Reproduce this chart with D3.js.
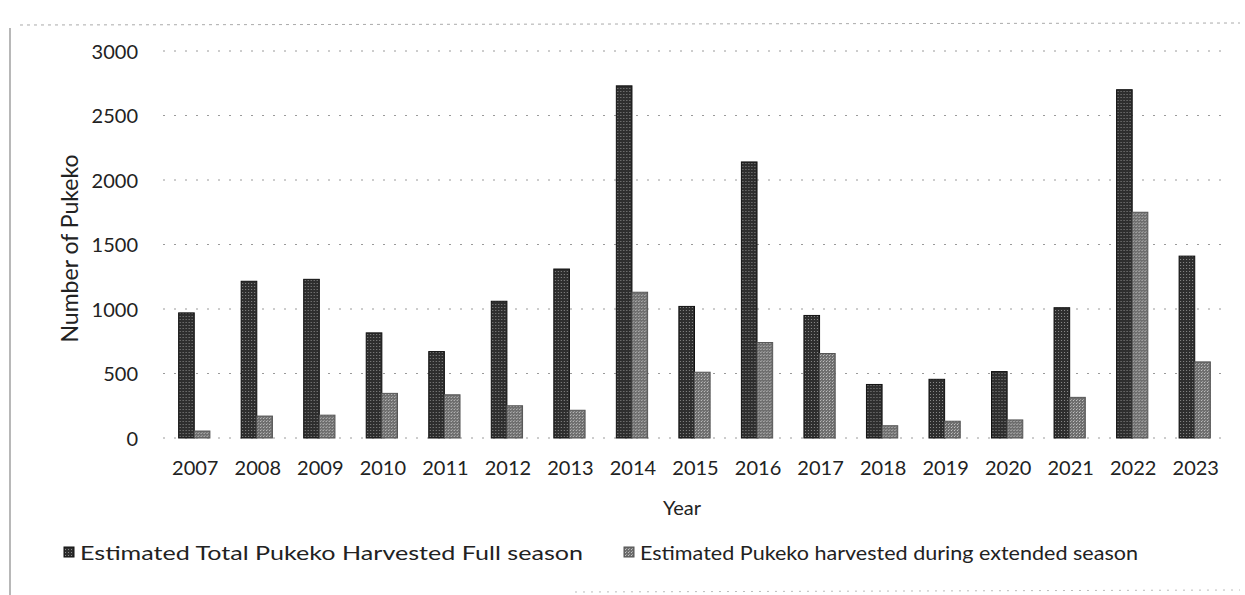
<!DOCTYPE html>
<html>
<head>
<meta charset="utf-8">
<script src="https://cdn.jsdelivr.net/npm/d3@7"></script>
<style>
  html, body { margin: 0; padding: 0; background: #fff; }
  svg { display: block; }
  text { font-family: Lato, "Open Sans", sans-serif; fill: #222; }
</style>
</head>
<body>
<div id="chart"></div>
<script>
const years = ["2007","2008","2009","2010","2011","2012","2013","2014","2015","2016","2017","2018","2019","2020","2021","2022","2023"];
const fullSeason = [970, 1215, 1230, 815, 670, 1060, 1310, 2730, 1020, 2140, 950, 415, 455, 515, 1010, 2700, 1410];
const extendedSeason = [54, 170, 177, 346, 335, 250, 215, 1130, 510, 740, 655, 95, 130, 140, 315, 1750, 590];
const seriesNames = ["Estimated Total Pukeko Harvested Full season", "Estimated Pukeko harvested during extended season"];
const yTicks = [0, 500, 1000, 1500, 2000, 2500, 3000];

const W = 1245, H = 595;
const margin = { left: 163, right: 19, top: 50, bottom: 157 };
const svg = d3.select("#chart").append("svg").attr("width", W).attr("height", H);

const defs = svg.append("defs");
const p1 = defs.append("pattern").attr("id", "darkTex").attr("patternUnits", "userSpaceOnUse").attr("width", 3).attr("height", 3);
p1.append("rect").attr("width", 3).attr("height", 3).attr("fill", "#2e2e2e");
p1.append("rect").attr("x", 1).attr("y", 1).attr("width", 1).attr("height", 1).attr("fill", "#8a8a8a");
const p2 = defs.append("pattern").attr("id", "lightTex").attr("patternUnits", "userSpaceOnUse").attr("width", 3).attr("height", 3);
p2.append("rect").attr("width", 3).attr("height", 3).attr("fill", "#6e6e6e");
p2.append("rect").attr("x", 1).attr("y", 1).attr("width", 1).attr("height", 1).attr("fill", "#c4c4c4");
p2.append("rect").attr("x", 2).attr("y", 0).attr("width", 1).attr("height", 1).attr("fill", "#a0a0a0");

// scan frame
svg.append("line").attr("x1", 10).attr("x2", 10).attr("y1", 28).attr("y2", 595)
  .attr("stroke", "#888").attr("stroke-width", 1.2);
svg.append("line").attr("x1", 20).attr("x2", 1240).attr("y1", 25).attr("y2", 23)
  .attr("stroke", "#aaa").attr("stroke-width", 1).attr("stroke-dasharray", "3,4");
svg.append("line").attr("x1", 575).attr("x2", 1240).attr("y1", 592).attr("y2", 590)
  .attr("stroke", "#bbb").attr("stroke-width", 1).attr("stroke-dasharray", "2,6");

const x = d3.scaleBand().domain(years).range([margin.left, W - margin.right]).paddingInner(0.5).paddingOuter(0.25);
const xSub = d3.scaleBand().domain([0, 1]).range([0, x.bandwidth()]);
const y = d3.scaleLinear().domain([0, 3000]).range([H - margin.bottom, margin.top + 1]);

// gridlines
svg.append("g").selectAll("line").data(yTicks).join("line")
  .attr("x1", margin.left).attr("x2", W - margin.right)
  .attr("y1", d => y(d)).attr("y2", d => y(d))
  .attr("stroke", "#9a9a9a").attr("stroke-width", 1).attr("stroke-dasharray", "2,9");

// y axis labels
const yAxis = d3.axisLeft(y).tickValues(yTicks).tickSize(0).tickPadding(0).tickFormat(d3.format("d"));
const gy = svg.append("g").attr("transform", `translate(${margin.left - 25},1)`).call(yAxis);
gy.select(".domain").remove();
gy.selectAll("text").attr("font-size", 20).attr("font-family", "Lato, sans-serif").attr("fill", "#222");

// x axis labels
const xAxis = d3.axisBottom(x).tickSize(0).tickPadding(0);
const gx = svg.append("g").attr("transform", `translate(1,${y(0) + 23})`).call(xAxis);
gx.select(".domain").remove();
gx.selectAll("text").attr("font-size", 20).attr("font-family", "Lato, sans-serif").attr("fill", "#222");

// bars
const data = years.map((yr, i) => ({ yr, vals: [fullSeason[i], extendedSeason[i]] }));
const fills = ["url(#darkTex)", "url(#lightTex)"];
const strokes = ["#111", "#555"];
const groups = svg.append("g").selectAll("g").data(data).join("g")
  .attr("transform", d => `translate(${x(d.yr)},0)`);
groups.selectAll("rect").data(d => d.vals.map((v, k) => ({ v, k }))).join("rect")
  .attr("x", d => xSub(d.k))
  .attr("width", xSub.bandwidth())
  .attr("y", d => y(d.v))
  .attr("height", d => y(0) - y(d.v))
  .attr("fill", d => fills[d.k])
  .attr("stroke", d => strokes[d.k]).attr("stroke-width", 1);

// axis titles
svg.append("text").attr("transform", `translate(78,${(y(0) + y(3000)) / 2 + 4}) rotate(-90)`)
  .attr("text-anchor", "middle").attr("font-size", 23).text("Number of Pukeko");
svg.append("text").attr("x", 682).attr("y", 515).attr("text-anchor", "middle")
  .attr("font-size", 20).text("Year");

// legend
const legendX = [64, 624];
const lg = svg.append("g").selectAll("g").data(seriesNames).join("g")
  .attr("transform", (d, i) => `translate(${legendX[i]},560)`);
lg.append("rect").attr("x", 0).attr("y", -13).attr("width", 10).attr("height", 10)
  .attr("fill", (d, i) => fills[i]).attr("stroke", (d, i) => strokes[i]);
lg.append("text").attr("x", 16).attr("y", 0).attr("font-size", 20)
  .attr("textLength", (d, i) => i === 0 ? 503 : 498).attr("lengthAdjust", "spacingAndGlyphs")
  .text(d => d);
</script>
</body>
</html>
